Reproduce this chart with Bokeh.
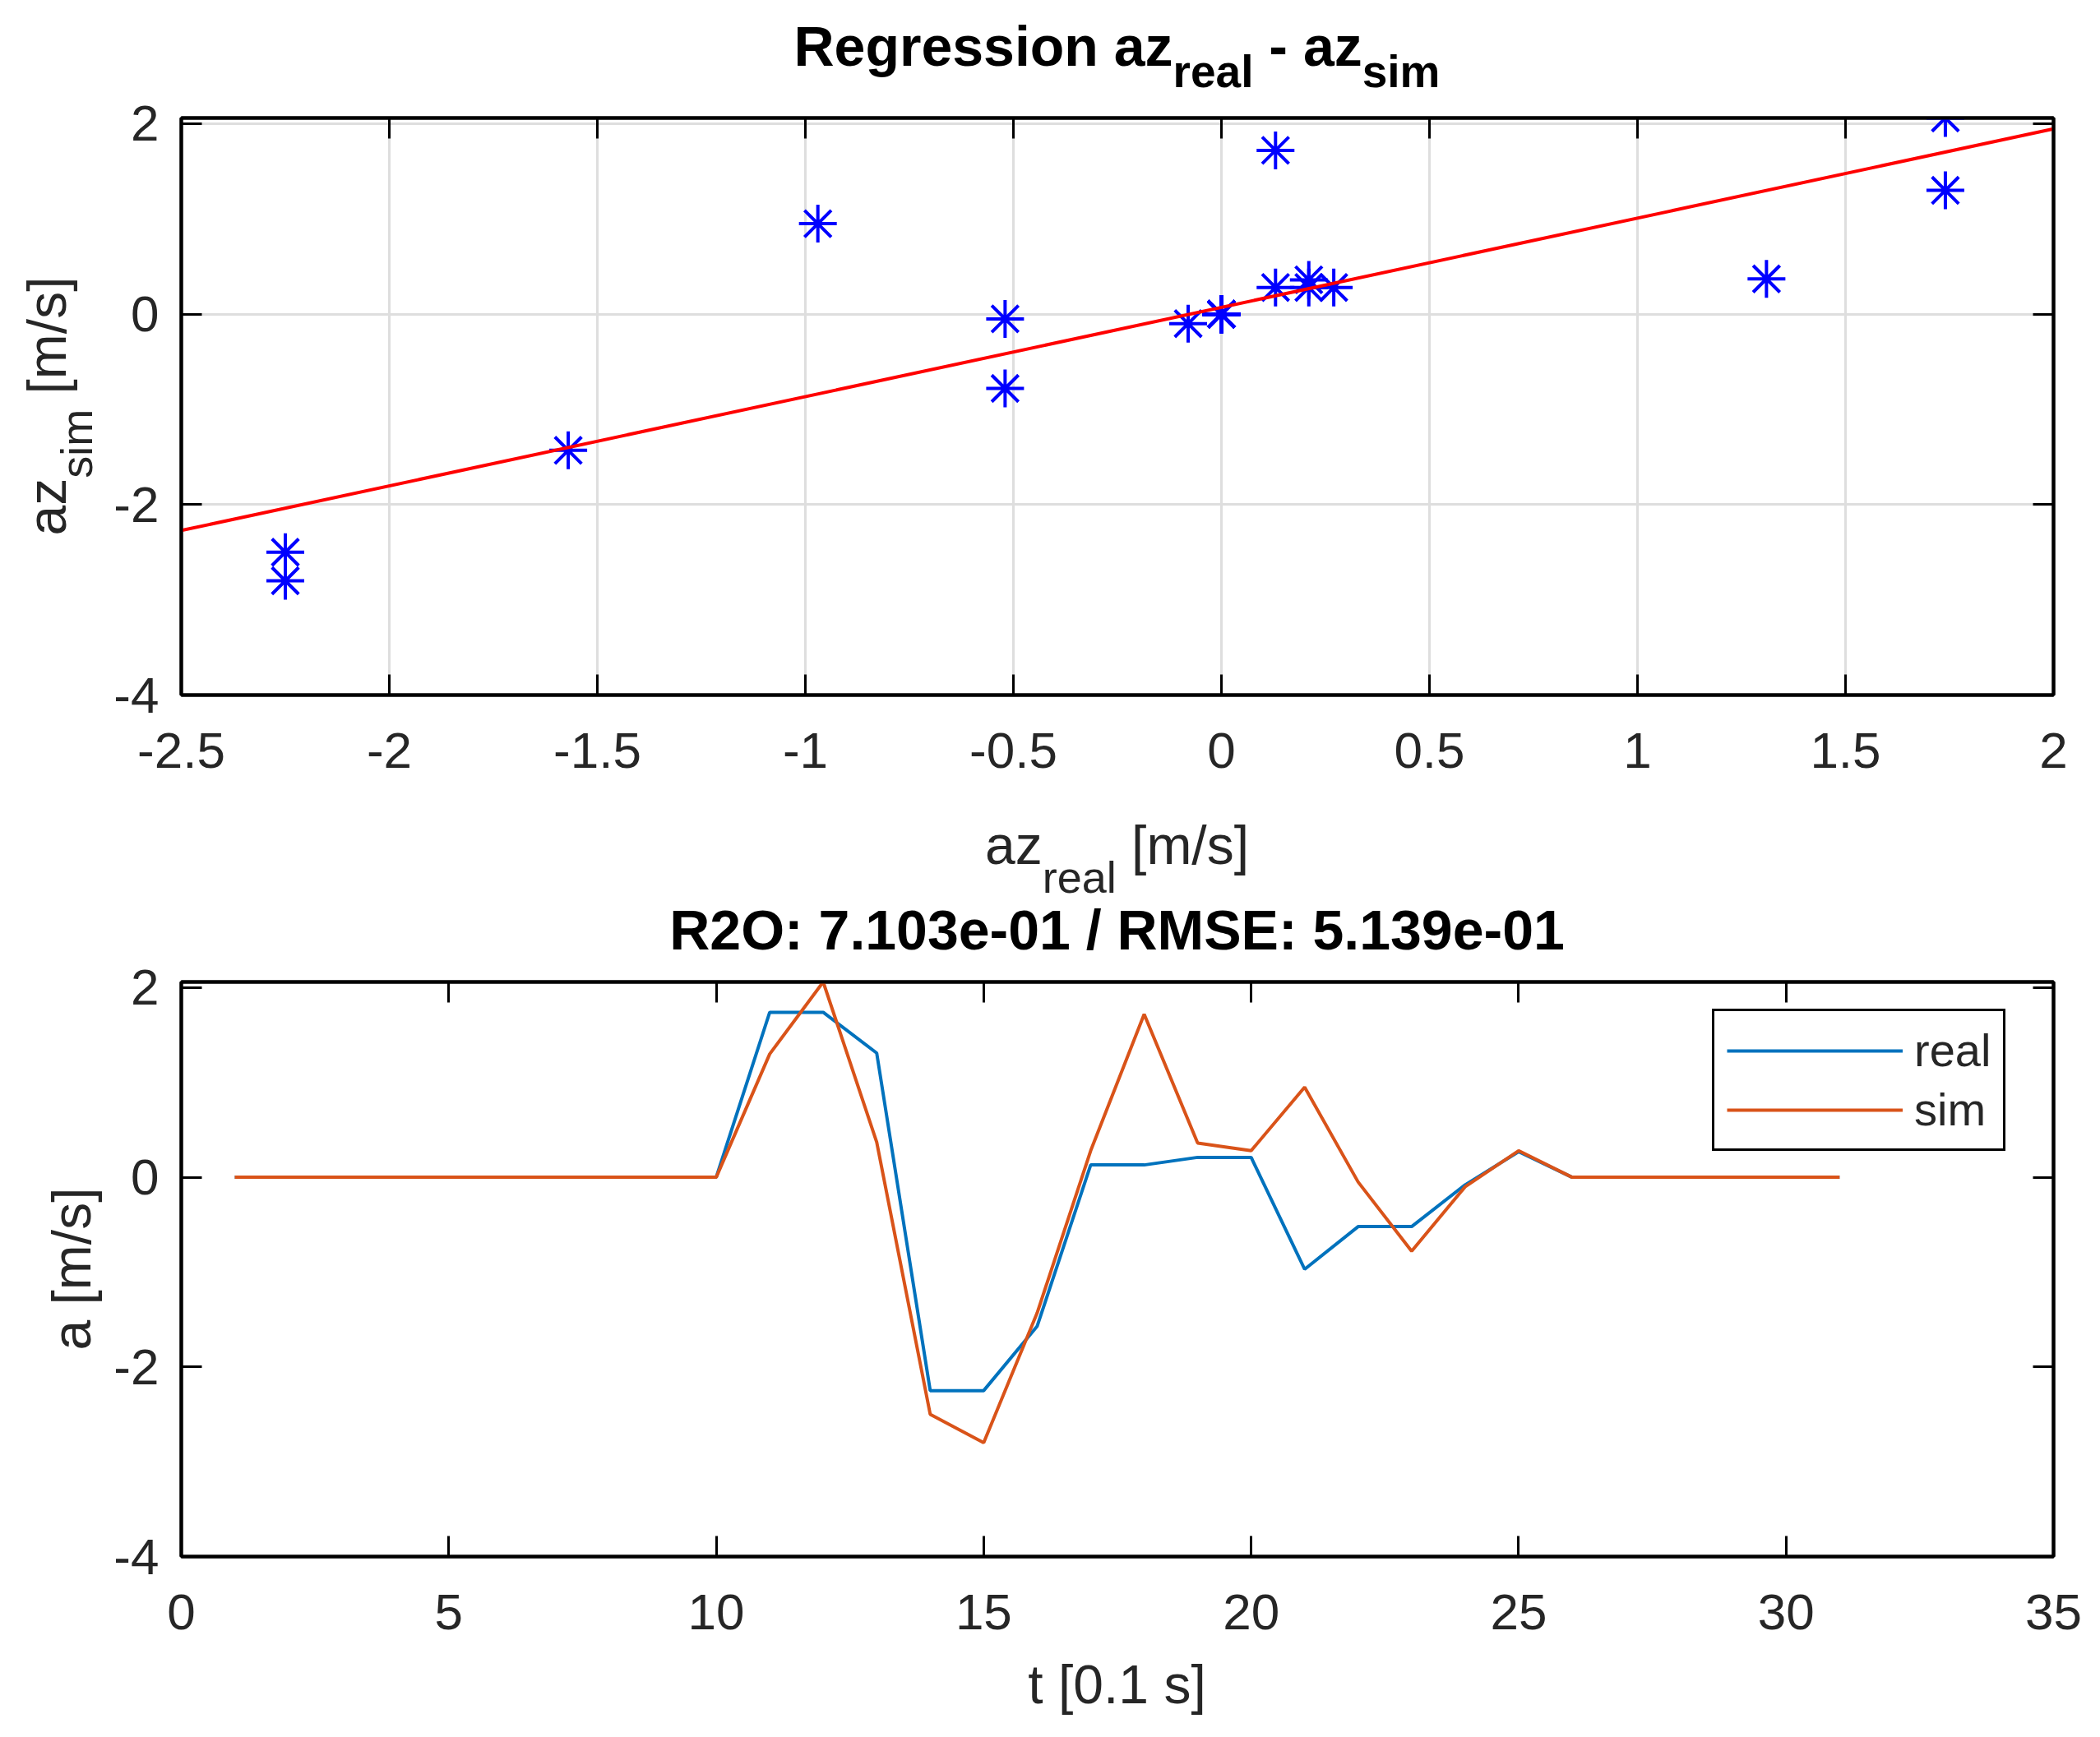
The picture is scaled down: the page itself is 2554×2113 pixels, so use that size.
import numpy as np
from bokeh.plotting import figure
from bokeh.models import (Range1d, FixedTicker, CustomJSTickFormatter, LinearAxis,
                          Legend, LegendItem, Div)
from bokeh.layouts import column, row
from bokeh.embed import file_html
from bokeh.resources import INLINE

# ---------------- data ----------------
t = [1, 2, 3, 4, 5, 6, 7, 8, 9, 10, 11, 12, 13, 14, 15, 16, 17, 18, 19, 20,
     21, 22, 23, 24, 25, 26, 27, 28, 29, 30, 31]
az_real = [0, 0, 0, 0, 0, 0, 0, 0, 0, 0,
           1.74, 1.74, 1.31, -2.25, -2.25, -1.57, 0.13, 0.13, 0.21, 0.21,
           -0.97, -0.52, -0.52, -0.08, 0.27, 0, 0, 0, 0, 0, 0]
az_sim = [0, 0, 0, 0, 0, 0, 0, 0, 0, 0,
          1.30, 2.06, 0.37, -2.50, -2.80, -1.43, 0.28, 1.72, 0.36, 0.28,
          0.95, -0.05, -0.78, -0.10, 0.28, 0, 0, 0, 0, 0, 0]

top_xticks = [-2.5, -2, -1.5, -1, -0.5, 0, 0.5, 1, 1.5, 2]
yticks = [-4, -2, 0, 2]
bot_xticks = [0, 5, 10, 15, 20, 25, 30, 35]

bot_title = "R2O: 7.103e-01 / RMSE: 5.139e-01"
legend_labels = ["real", "sim"]

# ---------------- style ----------------
FONT = "Liberation Sans"
TICK_PX = 62
LAB_PX = 66
SUB_PX = 54
TIT_PX = 68
TSUB_PX = 55
TXT = "#262626"
C_REAL = "#0072BD"
C_SIM = "#D95319"

PAGE_W = 2538
YL_W = 120            # width of the y-label strip
FIG_W = PAGE_W - YL_W
FRAME_L = 212         # frame left, relative to content origin
FRAME_W = 2277


def style(p, xt, yt, grid):
    p.outline_line_color = "black"
    p.outline_line_width = 4
    p.outline_line_alpha = 1.0
    p.background_fill_color = "white"
    p.border_fill_color = "white"
    xb = p.below[0]
    yl = p.left[0]
    fmt = CustomJSTickFormatter(code="return tick.toString();")
    blank = CustomJSTickFormatter(code="return '';")
    xb.ticker = FixedTicker(ticks=xt)
    yl.ticker = FixedTicker(ticks=yt)
    xb.formatter = fmt
    yl.formatter = fmt
    top = LinearAxis(ticker=FixedTicker(ticks=xt), formatter=blank)
    right = LinearAxis(ticker=FixedTicker(ticks=yt), formatter=blank)
    p.add_layout(top, "above")
    p.add_layout(right, "right")
    for ax in [xb, yl, top, right]:
        ax.axis_line_color = "black"
        ax.axis_line_width = 4
        ax.major_tick_in = 25
        ax.major_tick_out = 0
        ax.major_tick_line_width = 3
        ax.major_tick_line_color = "black"
        ax.minor_tick_in = 0
        ax.minor_tick_out = 0
        ax.major_label_text_font = FONT
        ax.major_label_text_font_size = f"{TICK_PX}px"
        ax.major_label_text_color = TXT
    for ax in [top, right]:
        ax.major_label_text_font_size = "2px"
        ax.major_label_standoff = 0
    xb.major_label_standoff = 46
    yl.major_label_standoff = 27
    if grid:
        p.xgrid.ticker = FixedTicker(ticks=xt)
        p.ygrid.ticker = FixedTicker(ticks=yt)
        p.grid.grid_line_color = "#DEDEDE"
        p.grid.grid_line_width = 3
    else:
        p.grid.visible = False


def sub(s, size, drop, bold=False):
    w = "bold" if bold else "normal"
    return (f'<span style="font-size:{size}px;font-weight:{w};position:relative;'
            f'top:{drop}px;">{s}</span>')


def hdiv(width, height, inner_html, top, size, bold=False, color=TXT,
         left=FRAME_L, span=FRAME_W):
    w = "bold" if bold else "normal"
    html = (f'<div style="position:relative;width:{width}px;height:{height}px;">'
            f'<div style="position:absolute;left:{left}px;top:{top}px;width:{span}px;'
            f'text-align:center;font-family:\'{FONT}\';font-weight:{w};'
            f'font-size:{size}px;line-height:{size}px;color:{color};'
            f'white-space:nowrap;">{inner_html}</div></div>')
    return Div(text=html, width=width, height=height, margin=0)


def vdiv(width, height, inner_html, x0, y0, span, size, color=TXT):
    html = (f'<div style="position:relative;width:{width}px;height:{height}px;">'
            f'<div style="position:absolute;left:{x0}px;top:{y0}px;width:{span}px;'
            f'text-align:center;font-family:\'{FONT}\';font-size:{size}px;'
            f'line-height:{size}px;color:{color};white-space:nowrap;'
            f'transform-origin:0 0;transform:rotate(-90deg);">{inner_html}</div></div>')
    return Div(text=html, width=width, height=height, margin=0)


YMIN, YMAX = -4, 2.06

# ---------------- top: regression ----------------
XMIN1, XMAX1 = -2.5, 2
P1_H = 862
p1 = figure(width=FIG_W, height=P1_H, output_backend="svg", toolbar_location=None,
            x_range=Range1d(XMIN1, XMAX1), y_range=Range1d(YMIN, YMAX),
            min_border_left=FRAME_L - YL_W, min_border_right=49,
            min_border_top=35, min_border_bottom=125)
style(p1, top_xticks, yticks, True)

p1.scatter(az_real, az_sim, marker="asterisk", size=46, line_color="#0000FF",
           line_width=4)
slope, intercept = np.polyfit(np.array(az_real), np.array(az_sim), 1)
fx = np.array([XMIN1, XMAX1])
p1.line(fx, slope * fx + intercept, line_color="#FF0000", line_width=4)

title1 = hdiv(PAGE_W, 100,
              "Regression az" + sub("real", TSUB_PX, 26, True) + " - az"
              + sub("sim", TSUB_PX, 26, True),
              top=14, size=TIT_PX, bold=True, color="#000000")
ylab1 = vdiv(YL_W, P1_H, "az" + sub("sim", SUB_PX, 32) + " [m/s]",
             x0=16, y0=737, span=702, size=LAB_PX)
xlab1 = hdiv(PAGE_W, 118, "az" + sub("real", SUB_PX, 35) + " [m/s]",
             top=25, size=LAB_PX)

# ---------------- bottom: time series ----------------
XMIN2, XMAX2 = 0, 35
P2_H = 858
p2 = figure(width=FIG_W, height=P2_H, output_backend="svg", toolbar_location=None,
            x_range=Range1d(XMIN2, XMAX2), y_range=Range1d(YMIN, YMAX),
            min_border_left=FRAME_L - YL_W, min_border_right=49,
            min_border_top=38, min_border_bottom=121)
style(p2, bot_xticks, yticks, False)

r_real = p2.line(t, az_real, line_color=C_REAL, line_width=4)
r_sim = p2.line(t, az_sim, line_color=C_SIM, line_width=4)

legend = Legend(items=[LegendItem(label=legend_labels[0], renderers=[r_real]),
                       LegendItem(label=legend_labels[1], renderers=[r_sim])],
                location=(1862, 493))
legend.border_line_color = "black"
legend.border_line_width = 3
legend.border_line_alpha = 1.0
legend.background_fill_color = "white"
legend.background_fill_alpha = 1.0
legend.label_text_font = FONT
legend.label_text_font_size = "56px"
legend.label_text_color = TXT
legend.glyph_width = 214
legend.glyph_height = 40
legend.label_height = 40
legend.label_standoff = 14
legend.spacing = 7
legend.padding = 15
legend.margin = 0
p2.add_layout(legend)

title2 = hdiv(PAGE_W, 68, bot_title, top=9, size=TIT_PX, bold=True,
              color="#000000")
ylab2 = vdiv(YL_W, P2_H, "a [m/s]", x0=46, y0=737, span=699, size=LAB_PX)
xlab2 = hdiv(PAGE_W, 91, "t [0.1 s]", top=2, size=LAB_PX)

layout = column(title1, row(ylab1, p1, spacing=0), xlab1,
                title2, row(ylab2, p2, spacing=0), xlab2, spacing=0,
                margin=(8, 0, 0, 8))
open("out.html", "w").write(file_html(layout, INLINE))
